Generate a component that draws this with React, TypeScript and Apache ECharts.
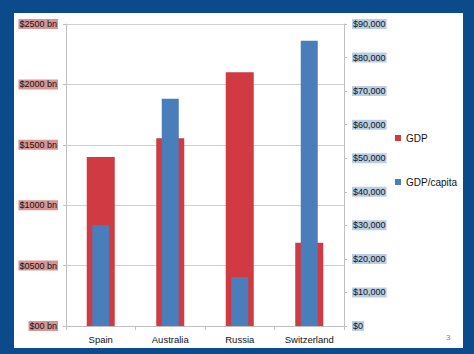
import React, { useEffect, useRef } from "react";
import * as echarts from "echarts";

const categories = ["Spain", "Australia", "Russia", "Switzerland"];
const gdp = [1400, 1555, 2100, 690];
const gdpPerCapita = [30000, 67700, 14600, 85000];
const leftTickLabels: Record<number, string> = {
  0: "$00 bn",
  500: "$0500 bn",
  1000: "$1000 bn",
  1500: "$1500 bn",
  2000: "$2000 bn",
  2500: "$2500 bn",
};

export default function App() {
  const ref = useRef<HTMLDivElement>(null);
  useEffect(() => {
    const chart = echarts.init(ref.current!, null, { renderer: "svg" });
    const font = "'Liberation Sans', Arial, sans-serif";
    chart.setOption({
      animation: false,
      backgroundColor: "#0b4a8b",
      textStyle: { fontFamily: font },
      graphic: [
        {
          type: "rect",
          shape: { x: 14, y: 13, width: 449, height: 335 },
          style: { fill: "#ffffff" },
          z: -10,
        },
        {
          type: "text",
          x: 446,
          y: 333,
          style: { text: "3", fontSize: 8, fill: "#888888", fontFamily: font },
        },
      ],
      legend: {
        orient: "vertical",
        left: 390,
        top: 128,
        itemGap: 34,
        itemWidth: 6,
        itemHeight: 6,
        icon: "rect",
        textStyle: { fontSize: 10, color: "#111", fontFamily: font },
        data: ["GDP", "GDP/capita"],
      },
      grid: { left: 66, right: 130, top: 24, bottom: 28 },
      xAxis: [
        {
          type: "category",
          data: categories,
          axisLine: { show: true, lineStyle: { color: "#bfbfbf" } },
          axisTick: { show: true, length: 4, lineStyle: { color: "#bfbfbf" } },
          axisLabel: { fontSize: 9.5, color: "#111", margin: 8, interval: 0, fontFamily: font },
        },
        {
          type: "category",
          data: categories,
          show: false,
        },
      ],
      yAxis: [
        {
          type: "value",
          min: 0,
          max: 2500,
          interval: 500,
          position: "left",
          axisLine: { show: true, lineStyle: { color: "#bfbfbf" } },
          axisTick: { show: true, length: 3, lineStyle: { color: "#bfbfbf" } },
          splitLine: { show: true, lineStyle: { color: "#d0d0d0" } },
          axisLabel: {
            fontSize: 9,
            color: "#111",
            margin: 8,
            backgroundColor: "#d99594",
            padding: [1, 1, 0, 1],
            fontFamily: font,
            formatter: (v: number) => leftTickLabels[v] ?? String(v),
          },
        },
        {
          type: "value",
          min: 0,
          max: 90000,
          interval: 10000,
          position: "right",
          axisLine: { show: true, lineStyle: { color: "#bfbfbf" } },
          axisTick: { show: true, length: 3, lineStyle: { color: "#bfbfbf" } },
          splitLine: { show: false },
          axisLabel: {
            fontSize: 9,
            color: "#111",
            margin: 8,
            backgroundColor: "#b9cde5",
            padding: [1, 1, 0, 1],
            fontFamily: font,
            formatter: (v: number) => "$" + v.toLocaleString("en-US"),
          },
        },
      ],
      series: [
        {
          name: "GDP",
          type: "bar",
          xAxisIndex: 0,
          yAxisIndex: 0,
          data: gdp,
          barWidth: 28,
          itemStyle: { color: "#cf3a43" },
          z: 2,
        },
        {
          name: "GDP/capita",
          type: "bar",
          xAxisIndex: 1,
          yAxisIndex: 1,
          data: gdpPerCapita,
          barWidth: 17,
          itemStyle: { color: "#4a7ebb" },
          z: 3,
        },
      ],
    });
    return () => chart.dispose();
  }, []);
  return (
    <div
      ref={ref}
      style={{ position: "fixed", left: 0, top: 0, width: 474, height: 354 }}
    />
  );
}
